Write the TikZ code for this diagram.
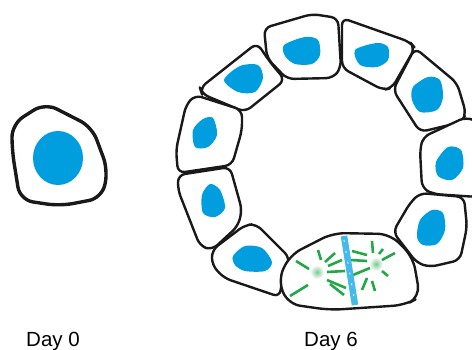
\documentclass[tikz,border=0pt]{standalone}
\usepackage{fontspec}
\setmainfont{Liberation Sans}
\definecolor{nucblue}{RGB}{0,158,222}
\definecolor{spindle}{RGB}{34,168,72}
\definecolor{chromo}{RGB}{70,185,235}

\tikzset{
    cellwall/.style={draw=black!90, line width=2.4pt, line join=round, rounded corners=7pt, fill=white},
    nucleus/.style={fill=nucblue},
    aster/.style={draw=spindle, line width=2.6pt},
    daytext/.style={anchor=base west, inner sep=0pt, font=\fontsize{20.5}{24}\selectfont},
}

\begin{document}
\begin{tikzpicture}[x=1pt, y=-1pt]
        \useasboundingbox (0,0) rectangle (472,349);
        % single cell
        \draw[cellwall, line width=3.4pt, rounded corners=13pt] (12,124) -- (45,103) -- (92,127) -- (108,170) -- (102,198) -- (60,206) -- (20,200) -- (12,150) -- cycle;
        \fill[nucleus] (58,158) ellipse [x radius=25pt, y radius=27pt];

        % ring of cells
        \draw[cellwall] (200,88) -- (257,43) -- (270,62) -- (285,80) -- (245,112) -- (202,94) -- cycle;
        \draw[cellwall] (264,28) -- (312,14) -- (338,18) -- (341,68) -- (333,78) -- (287,79) -- (267,58) -- cycle;
        \draw[cellwall] (342,18) -- (410,42) -- (415,48) -- (392,88) -- (383,90) -- (342,68) -- cycle;
        \draw[cellwall] (415,48) -- (457,83) -- (466,113) -- (462,122) -- (420,132) -- (393,90) -- cycle;
        \draw[cellwall] (423,137) -- (466,117) -- (478,122) -- (478,197) -- (433,194) -- (422,188) -- (420,150) -- cycle;
        \draw[cellwall] (420,193) -- (464,197) -- (467,227) -- (460,260) -- (430,267) -- (417,263) -- (393,232) -- (410,203) -- cycle;
        \draw[cellwall] (212,250) -- (245,225) -- (256,224) -- (290,258) -- (281,285) -- (280,297) -- (224,278) -- (212,265) -- cycle;
        \draw[cellwall] (178,175) -- (230,167) -- (242,210) -- (238,226) -- (212,250) -- (200,246) -- (178,190) -- cycle;
        \draw[cellwall] (195,95) -- (242,110) -- (242,130) -- (232,165) -- (178,173) -- (176,150) -- (186,105) -- cycle;
        % dividing cell
        \draw[cellwall, rounded corners=12pt] (290,255) -- (333,233) -- (390,234) -- (413,257) -- (420,297) -- (405,305) -- (330,310) -- (288,304) -- (278,280) -- cycle;

        % nuclei
        \fill[nucleus] plot[smooth cycle] coordinates {(224,80) (240,66) (258,65) (263,78) (255,92) (238,92)};
        \fill[nucleus] plot[smooth cycle] coordinates {(284,45) (305,37) (318,40) (320,55) (312,64) (295,64) (285,56)};
        \fill[nucleus] plot[smooth cycle] coordinates {(355,50) (377,43) (388,47) (388,60) (377,67) (360,65)};
        \fill[nucleus] plot[smooth cycle] coordinates {(413,87) (428,77) (440,80) (443,97) (437,110) (420,112) (412,100)};
        \fill[nucleus] plot[smooth cycle] coordinates {(436,162) (448,147) (461,150) (463,168) (452,180) (438,176)};
        \fill[nucleus] plot[smooth cycle] coordinates {(420,220) (432,210) (443,213) (445,230) (437,244) (423,245) (417,237)};
        \fill[nucleus] plot[smooth cycle] coordinates {(233,256) (245,246) (262,248) (272,262) (265,271) (245,271) (235,265)};
        \fill[nucleus] plot[smooth cycle] coordinates {(202,195) (210,184) (220,190) (225,208) (215,217) (203,213)};
        \fill[nucleus] plot[smooth cycle] coordinates {(193,130) (203,119) (213,118) (217,135) (208,147) (195,147)};

        % spindle poles
        \shade[inner color=spindle!60, outer color=white] (317,272) circle [radius=7pt];
        \shade[inner color=spindle!60, outer color=white] (376,264) circle [radius=7pt];
        \draw[aster] (296,261) -- (309,269);
        \draw[aster] (318,250) -- (321,260);
        \draw[aster] (325,262) -- (335,253);
        \draw[aster] (328,266) -- (342,260);
        \draw[aster] (327,272) -- (345,271);
        \draw[aster] (327,280) -- (346,288);
        \draw[aster] (330,284) -- (344,295);
        \draw[aster] (290,296) -- (308,285);
        \draw[aster] (352,251) -- (367,255);
        \draw[aster] (350,260) -- (367,261);
        \draw[aster] (372,241) -- (373,253);
        \draw[aster] (379,254) -- (383,249);
        \draw[aster] (382,260) -- (395,253);
        \draw[aster] (382,271) -- (388,276);
        \draw[aster] (372,281) -- (375,291);
        \draw[aster] (367,278) -- (362,290);
        \draw[aster] (353,275) -- (370,268);
        % chromosomes on the plate
        \draw[chromo, line width=6.5pt] (344,236) -- (355,305);
        \draw[white, line width=0.8pt, dash pattern=on 2pt off 9pt] (344,240) -- (355,303);

        \node[daytext] (day0) at (26,346) {Day 0};
        \node[daytext] (day6) at (304,346) {Day 6};
    \end{tikzpicture}
\end{document}
